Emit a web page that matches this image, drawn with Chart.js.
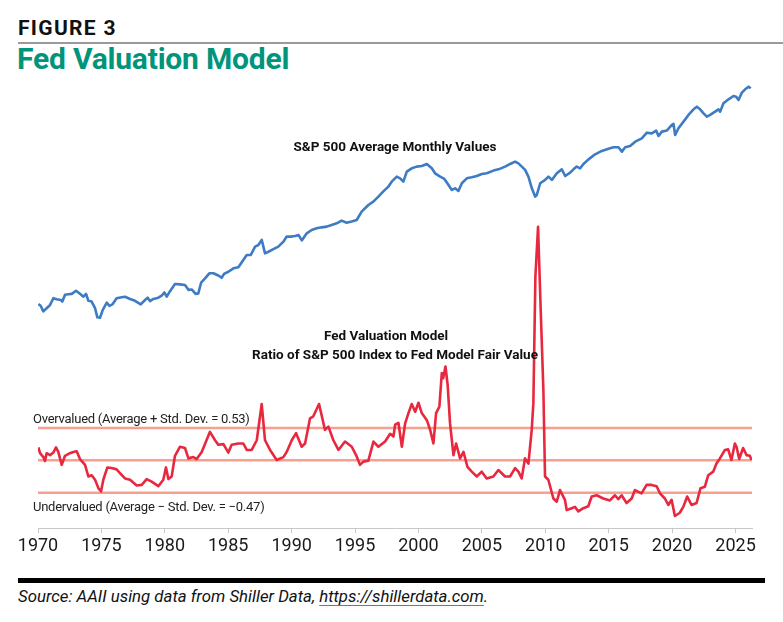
<!DOCTYPE html>
<html>
<head>
<meta charset="utf-8">
<script src="https://cdn.jsdelivr.net/npm/chart.js@4"></script>
<style>
  body { margin: 0; width: 783px; height: 622px; background: #fff; position: relative; overflow: hidden; font-family: Roboto, sans-serif; }
  .abs { position: absolute; white-space: nowrap; }
  #fig { left: 18px; top: 16px; font-size: 21px; font-weight: bold; letter-spacing: 1.3px; color: #111; }
  #rule { left: 18px; top: 42px; width: 765px; height: 2px; background: #9a9a9a; }
  #title { left: 17px; top: 41px; font-size: 30px; font-weight: bold; color: #00957a; letter-spacing: -0.2px; }
  #chartBox { left: 0; top: 60px; width: 783px; height: 500px; }
  .note { font-size: 13.5px; font-weight: bold; color: #111; transform: translate(-50%, -50%); }
  .band { font-size: 13px; color: #222; letter-spacing: -0.25px; transform: translateY(-50%); }
  #foot { left: 18px; top: 578px; width: 747px; height: 5px; background: #000; }
  #src { left: 18px; top: 586px; font-size: 16.8px; font-style: italic; color: #111; }
  #src span { text-decoration: underline; text-decoration-color: #777; text-underline-offset: 3px; }
</style>
</head>
<body>
<div class="abs" id="fig">FIGURE 3</div>
<div class="abs" id="rule"></div>
<div class="abs" id="title">Fed Valuation Model</div>
<div class="abs" id="chartBox"><canvas id="chart"></canvas></div>
<div class="abs note" style="left:395px; top:146px;">S&amp;P 500 Average Monthly Values</div>
<div class="abs note" style="left:386px; top:335px;">Fed Valuation Model</div>
<div class="abs note" style="left:395px; top:354px;">Ratio of S&amp;P 500 Index to Fed Model Fair Value</div>
<div class="abs band" style="left:33px; top:418px;">Overvalued (Average + Std. Dev. = 0.53)</div>
<div class="abs band" style="left:33px; top:506px;">Undervalued (Average − Std. Dev. = −0.47)</div>
<div class="abs" id="foot"></div>
<div class="abs" id="src">Source: AAII using data from Shiller Data, <span>https://shillerdata.com</span>.</div>

<script>
// S&P 500 average monthly values (log scale)
const spYears = [
  1970.03, 1970.21, 1970.42, 1970.68, 1970.95, 1971.21, 1971.47, 1971.79, 1971.92, 1972.13,
  1972.39, 1972.66, 1973.00, 1973.31, 1973.58, 1973.79, 1973.97, 1974.23, 1974.50, 1974.68,
  1974.89, 1975.10, 1975.42, 1975.63, 1975.89, 1976.20, 1976.60, 1976.86, 1977.26, 1977.65,
  1978.10, 1978.44, 1978.65, 1978.83, 1979.10, 1979.49, 1979.75, 1979.96, 1980.15, 1980.41,
  1980.80, 1981.20, 1981.59, 1981.86, 1982.12, 1982.43, 1982.64, 1982.86, 1983.17, 1983.51,
  1983.83, 1984.22, 1984.48, 1984.67, 1985.01, 1985.41, 1985.80, 1986.19, 1986.46, 1986.77,
  1987.12, 1987.38, 1987.64, 1987.90, 1988.17, 1988.56, 1988.95, 1989.35, 1989.61, 1990.01,
  1990.27, 1990.55, 1990.80, 1991.19, 1991.58, 1991.97, 1992.37, 1992.76, 1993.15, 1993.55,
  1993.94, 1994.34, 1994.73, 1995.13, 1995.52, 1996.05, 1996.44, 1996.84, 1997.23, 1997.63,
  1997.89, 1998.29, 1998.55, 1998.81, 1999.08, 1999.47, 1999.86, 2000.26, 2000.66, 2001.05,
  2001.31, 2001.71, 2001.97, 2002.10, 2002.37, 2002.63, 2002.89, 2003.15, 2003.42, 2003.81,
  2004.20, 2004.60, 2004.99, 2005.39, 2005.91, 2006.31, 2006.83, 2007.23, 2007.62, 2007.88,
  2008.15, 2008.41, 2008.67, 2008.94, 2009.20, 2009.33, 2009.60, 2009.99, 2010.25, 2010.52,
  2010.91, 2011.30, 2011.57, 2011.96, 2012.22, 2012.48, 2012.75, 2013.01, 2013.41, 2013.93,
  2014.46, 2014.98, 2015.38, 2015.77, 2016.04, 2016.30, 2016.69, 2017.09, 2017.61, 2018.01,
  2018.40, 2018.74, 2018.93, 2019.19, 2019.58, 2019.98, 2020.11, 2020.24, 2020.50, 2020.90,
  2021.29, 2021.69, 2021.95, 2022.21, 2022.48, 2022.74, 2023.00, 2023.27, 2023.66, 2023.79,
  2024.05, 2024.45, 2024.84, 2025.05, 2025.24, 2025.50, 2025.76, 2026.03, 2026.20
];
const spValues = [
  88, 85, 76, 81, 86.5, 99, 97, 95.5, 92.5, 106,
  107, 108, 115, 108, 102, 108, 94, 92.5, 81, 67.5,
  67, 78, 90.5, 85, 88, 99, 101, 102, 97.5, 94,
  87.5, 95.5, 100, 93.5, 97.5, 100, 104, 111, 102, 114,
  131.5, 130.5, 129, 117, 118, 108, 109, 135, 147, 163,
  163, 156, 149, 161, 168, 180, 184, 213, 235, 235,
  278, 287, 318, 243, 251, 264, 278, 307, 340, 340,
  344, 350, 315, 363, 388, 401, 409, 415, 429, 443,
  468, 449, 459, 474, 560, 640, 684, 757, 840, 925,
  1021, 1129, 1092, 1021, 1247, 1334, 1380, 1397, 1455, 1334,
  1207, 1129, 1092, 1057, 955, 865, 893, 847, 989, 1091,
  1114, 1143, 1191, 1208, 1274, 1306, 1380, 1455, 1524, 1472,
  1380, 1291, 1130, 893, 757, 782, 989, 1057, 1130, 1057,
  1208, 1306, 1143, 1222, 1306, 1380, 1334, 1455, 1596, 1766,
  1888, 1977, 2032, 2032, 1862, 2032, 2084, 2275, 2432, 2723,
  2685, 2838, 2547, 2780, 2838, 3177, 3243, 2600, 2972, 3396,
  3882, 4345, 4581, 4345, 4009, 3750, 3882, 4064, 4345, 4150,
  4898, 5309, 5675, 5598, 5236, 6067, 6486, 6839, 6622
];

// Fed valuation model ratio
const fedYears = [
  1970.03, 1970.16, 1970.42, 1970.55, 1970.68, 1970.95, 1971.21, 1971.42, 1971.60, 1971.87,
  1972.13, 1972.52, 1972.79, 1973.05, 1973.31, 1973.71, 1973.97, 1974.23, 1974.50, 1974.76,
  1974.97, 1975.15, 1975.47, 1975.81, 1976.20, 1976.47, 1976.86, 1977.26, 1977.78, 1978.18,
  1978.57, 1978.96, 1979.49, 1979.88, 1980.09, 1980.28, 1980.54, 1980.80, 1981.20, 1981.59,
  1981.86, 1982.25, 1982.51, 1982.91, 1983.56, 1983.96, 1984.22, 1984.62, 1985.01, 1985.27,
  1985.80, 1986.19, 1986.46, 1986.85, 1987.25, 1987.64, 1987.90, 1988.30, 1988.82, 1989.35,
  1989.61, 1990.01, 1990.35, 1990.79, 1991.06, 1991.45, 1991.71, 1992.16, 1992.63, 1992.90,
  1993.29, 1993.69, 1994.21, 1994.74, 1995.13, 1995.39, 1995.66, 1996.05, 1996.45, 1996.84,
  1997.37, 1997.77, 1998.03, 1998.16, 1998.42, 1998.69, 1998.95, 1999.21, 1999.47, 1999.74,
  2000.00, 2000.26, 2000.66, 2000.92, 2001.18, 2001.39, 2001.65, 2001.84, 2001.95, 2002.13,
  2002.30, 2002.49, 2002.76, 2002.97, 2003.28, 2003.55, 2003.86, 2004.20, 2004.60, 2004.99,
  2005.38, 2005.91, 2006.30, 2006.83, 2007.22, 2007.62, 2007.88, 2008.14, 2008.40, 2008.67,
  2008.93, 2009.06, 2009.22, 2009.43, 2009.64, 2009.85, 2009.98, 2010.24, 2010.64, 2010.90,
  2011.16, 2011.55, 2011.69, 2012.08, 2012.34, 2012.61, 2013.00, 2013.39, 2013.66, 2014.05,
  2014.57, 2015.10, 2015.49, 2015.76, 2016.02, 2016.41, 2016.81, 2017.07, 2017.59, 2017.99,
  2018.38, 2018.78, 2019.04, 2019.43, 2019.70, 2019.96, 2020.22, 2020.61, 2020.88, 2021.19,
  2021.53, 2021.93, 2022.24, 2022.58, 2022.85, 2023.24, 2023.50, 2023.77, 2024.16, 2024.42,
  2024.68, 2024.95, 2025.08, 2025.29, 2025.60, 2025.87, 2026.13, 2026.26
];
const fedValues = [
  0.23, 0.14, 0.08, 0.02, 0.14, 0.11, 0.15, 0.23, 0.16, -0.04,
  0.10, 0.14, 0.16, 0.17, 0.05, -0.04, -0.22, -0.20, -0.27, -0.40,
  -0.45, -0.27, -0.08, -0.09, -0.11, -0.17, -0.25, -0.27, -0.36, -0.35,
  -0.26, -0.30, -0.37, -0.27, -0.08, -0.26, -0.22, 0.10, 0.24, 0.22,
  0.06, 0.08, 0.05, 0.16, 0.47, 0.34, 0.27, 0.28, 0.15, 0.27,
  0.29, 0.29, 0.19, 0.19, 0.34, 0.90, 0.34, 0.19, 0.035, 0.08,
  0.16, 0.34, 0.45, 0.24, 0.29, 0.68, 0.71, 0.90, 0.50, 0.55,
  0.34, 0.19, 0.32, 0.24, 0.09, -0.04, 0.01, 0.025, 0.32, 0.24,
  0.32, 0.44, 0.40, 0.58, 0.61, 0.24, 0.60, 0.76, 0.90, 0.78,
  0.92, 0.76, 0.65, 0.50, 0.29, 0.76, 0.86, 1.38, 1.30, 1.48,
  1.20, 0.60, 0.11, 0.29, 0.06, 0.16, -0.07, -0.145, -0.22, -0.145,
  -0.25, -0.22, -0.12, -0.22, -0.22, -0.09, -0.145, -0.25, 0.06, -0.02,
  0.50, 0.91, 2.87, 3.64, 2.35, 1.12, -0.22, -0.27, -0.56, -0.61,
  -0.43, -0.58, -0.74, -0.71, -0.69, -0.76, -0.71, -0.68, -0.53, -0.51,
  -0.56, -0.59, -0.51, -0.57, -0.51, -0.63, -0.56, -0.43, -0.48, -0.35,
  -0.35, -0.37, -0.48, -0.56, -0.66, -0.58, -0.83, -0.78, -0.69, -0.53,
  -0.66, -0.63, -0.40, -0.38, -0.20, -0.145, -0.02, 0.06, 0.19, 0.20,
  0.035, 0.29, 0.24, 0.05, 0.22, 0.11, 0.10, 0.035
];

// Average + SD, average, average - SD
const bandLevels = [0.53, 0.03, -0.47];
const tickYears = [1970, 1975, 1980, 1985, 1990, 1995, 2000, 2005, 2010, 2015, 2020, 2025];
const xStart = 1970;
const xEnd = 2026.3;

const toPoints = (xs, ys) => xs.map((x, i) => ({ x: x, y: ys[i] }));

const datasets = [
  {
    label: 'Fed Valuation Model',
    data: toPoints(fedYears, fedValues),
    yAxisID: 'yFed',
    borderColor: '#e8283f',
    borderWidth: 2.6,
    borderJoinStyle: 'round',
    pointRadius: 0,
    order: 0
  },
  {
    label: 'S&P 500',
    data: toPoints(spYears, spValues),
    yAxisID: 'ySP',
    borderColor: '#3d7cc3',
    borderWidth: 2.6,
    borderJoinStyle: 'round',
    pointRadius: 0,
    order: 1
  }
];
bandLevels.forEach(lv => {
  datasets.push({
    data: [{ x: xStart, y: lv }, { x: xEnd, y: lv }],
    yAxisID: 'yFed',
    borderColor: '#f7a090',
    borderWidth: 2.5,
    pointRadius: 0,
    order: 2
  });
});

new Chart(document.getElementById('chart'), {
  type: 'line',
  data: { datasets: datasets },
  options: {
    responsive: true,
    maintainAspectRatio: false,
    animation: false,
    layout: { padding: { top: 20, left: 38, right: 31, bottom: 0 } },
    plugins: { legend: { display: false }, tooltip: { enabled: false } },
    scales: {
      x: {
        type: 'linear',
        min: xStart,
        max: xEnd,
        afterBuildTicks: s => { s.ticks = tickYears.map(v => ({ value: v })); },
        afterFit: s => { s.height = 32; },
        grid: { drawOnChartArea: false, drawTicks: true, tickLength: 5, color: '#c8c8c8' },
        border: { display: true, color: '#c8c8c8', width: 1 },
        ticks: {
          autoSkip: false,
          maxRotation: 0,
          padding: 3,
          color: '#1a1a1a',
          font: { family: 'Roboto', size: 18 },
          callback: v => String(v)
        }
      },
      ySP: { type: 'logarithmic', display: false, min: 0.994, max: 7816 },
      yFed: { type: 'linear', display: false, min: -1.016, max: 5.908 }
    }
  }
});
</script>
</body>
</html>
